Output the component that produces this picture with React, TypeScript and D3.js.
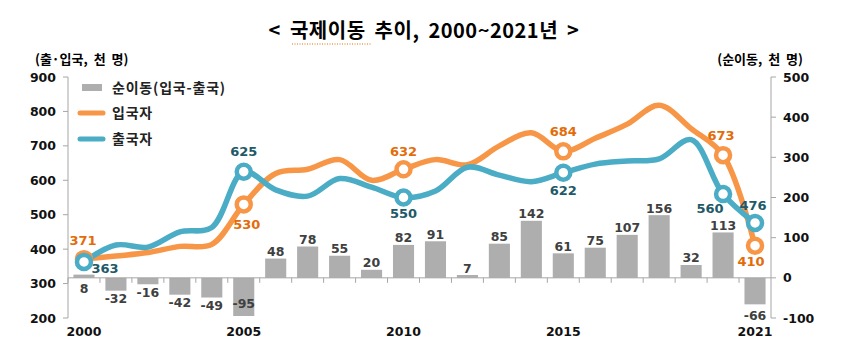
import React from "react";
import * as d3 from "d3";

const years = [2000, 2001, 2002, 2003, 2004, 2005, 2006, 2007, 2008, 2009, 2010, 2011, 2012, 2013, 2014, 2015, 2016, 2017, 2018, 2019, 2020, 2021];
const inflow = [371, 380, 390, 408, 414, 530, 620, 632, 660, 600, 632, 660, 645, 700, 738, 684, 722, 763, 818, 750, 673, 410];
const outflow = [363, 412, 406, 450, 463, 625, 572, 554, 605, 580, 550, 569, 638, 615, 596, 622, 647, 656, 662, 718, 560, 476];
const net = [8, -32, -16, -42, -49, -95, 48, 78, 55, 20, 82, 91, 7, 85, 142, 61, 75, 107, 156, 32, 113, -66];
const markerYears = [2000, 2005, 2010, 2015, 2020, 2021];
const xLabelYears = [2000, 2005, 2010, 2015, 2021];
const leftTicks = [200, 300, 400, 500, 600, 700, 800, 900];
const rightTicks = [-100, 0, 100, 200, 300, 400, 500];
const legendLabels = ["순이동(입국-출국)", "입국자", "출국자"];
const title = "< 국제이동 추이, 2000~2021년 >";
const leftTitle = "(출·입국, 천 명)";
const rightTitle = "(순이동, 천 명)";

const ORANGE = "#F79646";
const BLUE = "#4BACC6";
const ORANGE_TXT = "#E36C0A";
const BLUE_TXT = "#215968";
const BAR = "#AEAEAE";
const AXIS = "#A6A6A6";
const FONT = "'DejaVu Sans', 'Noto Sans CJK KR', sans-serif";
const KFONT = "'Noto Sans CJK KR', sans-serif";

// label offsets (dx, dy) relative to marker
const inOffsets: Record<number, [number, number]> = {
  2000: [-1, -19], 2005: [3, 20], 2010: [0, -18], 2015: [0, -20], 2020: [-2, -20], 2021: [-4, 16],
};
const outOffsets: Record<number, [number, number]> = {
  2000: [21, 6], 2005: [0, -20], 2010: [0, 16], 2015: [0, 18], 2020: [-13, 14], 2021: [-2, -18],
};
// bar label special placements (dy from bar end)
const barLabelOverride: Record<number, number> = { 2000: 11, 2005: -12, 2021: 11 };

export default function App() {
  const W = 853, H = 360;
  const x = d3.scaleBand<number>().domain(years).range([68, 771]).paddingInner(0.34).paddingOuter(0.17);
  const yL = d3.scaleLinear().domain([200, 900]).range([318, 77]);
  const yR = d3.scaleLinear().domain([-100, 500]).range([318, 77]);
  const cx = (yr: number) => (x(yr) as number) + x.bandwidth() / 2;
  const step = x.step();
  const line = d3.line<number>().x((_, i) => cx(years[i])).y((v) => yL(v)).curve(d3.curveCatmullRom.alpha(0.5));
  const zeroY = yR(0);

  const barLabelY = (yr: number, v: number) => {
    const end = yR(v);
    if (barLabelOverride[yr] !== undefined) {
      const base = yr === 2000 ? zeroY : end;
      return base + barLabelOverride[yr];
    }
    return v >= 0 ? end - 7 : end + 8;
  };

  return (
    <svg width={W} height={H} style={{ position: "absolute", left: 0, top: 0, background: "#fff" }} fontFamily={FONT}>
      {/* title */}
      <text x={424} y={38} textAnchor="middle" fontSize={20} fontWeight="bold" fill="#000" fontFamily={KFONT} letterSpacing={0.5} wordSpacing={4}>{title}</text>
      <line x1={292} x2={372} y1={44} y2={44} stroke="#E36C0A" strokeWidth={1} strokeDasharray="1,1.5" />
      <text x={35} y={59} dy="0.36em" fontSize={13} fontWeight="bold" fill="#000" fontFamily={KFONT} wordSpacing={3}>{leftTitle}</text>
      <text x={803} y={59} dy="0.36em" textAnchor="end" fontSize={13} fontWeight="bold" fill="#000" fontFamily={KFONT} wordSpacing={3}>{rightTitle}</text>

      {/* left axis */}
      <line x1={68} x2={68} y1={77} y2={318} stroke={AXIS} />
      {leftTicks.map((t) => (
        <g key={"l" + t}>
          <line x1={63} x2={68} y1={yL(t)} y2={yL(t)} stroke={AXIS} />
          <text x={56} y={yL(t)} dy="0.36em" textAnchor="end" fontSize={12.5} fontWeight="bold" fill="#111">{t}</text>
        </g>
      ))}
      {/* right axis */}
      <line x1={771} x2={771} y1={77} y2={318} stroke={AXIS} />
      {rightTicks.map((t) => (
        <g key={"r" + t}>
          <line x1={771} x2={776} y1={yR(t)} y2={yR(t)} stroke={AXIS} />
          <text x={783} y={yR(t)} dy="0.36em" textAnchor="start" fontSize={12.5} fontWeight="bold" fill="#111">{t}</text>
        </g>
      ))}
      {/* bars */}
      {years.map((yr, i) => (
        <rect key={"b" + yr} x={x(yr)} width={x.bandwidth()} y={Math.min(yR(net[i]), zeroY)} height={Math.abs(yR(net[i]) - zeroY)} fill={BAR} />
      ))}
      {/* x axis */}
      <line x1={68} x2={771} y1={zeroY} y2={zeroY} stroke={AXIS} />
      {years.map((yr) => (
        <line key={"xt" + yr} x1={(x(yr) as number) - step * 0.17} x2={(x(yr) as number) - step * 0.17} y1={zeroY} y2={zeroY + 5} stroke={AXIS} />
      ))}
      {xLabelYears.map((yr) => (
        <text key={"xl" + yr} x={cx(yr)} y={331} dy="0.36em" textAnchor="middle" fontSize={12.5} fontWeight="bold" fill="#111">{yr}</text>
      ))}
      {/* bar labels */}
      {years.map((yr, i) => (
        <text key={"bl" + yr} x={cx(yr)} y={barLabelY(yr, net[i])} dy="0.36em" textAnchor="middle" fontSize={12.5} fontWeight="bold" fill="#404040">{net[i]}</text>
      ))}
      {/* lines */}
      <path d={line(inflow) as string} fill="none" stroke={ORANGE} strokeWidth={5.5} strokeLinejoin="round" />
      <path d={line(outflow) as string} fill="none" stroke={BLUE} strokeWidth={5.5} strokeLinejoin="round" />
      {/* markers */}
      {markerYears.map((yr) => {
        const i = years.indexOf(yr);
        return (
          <g key={"m" + yr}>
            <circle cx={cx(yr)} cy={yL(inflow[i])} r={7} fill="#fff" stroke={ORANGE} strokeWidth={4.5} />
            <circle cx={cx(yr)} cy={yL(outflow[i])} r={7} fill="#fff" stroke={BLUE} strokeWidth={4.5} />
          </g>
        );
      })}
      {/* point labels */}
      {markerYears.map((yr) => {
        const i = years.indexOf(yr);
        const oi = inOffsets[yr];
        const oo = outOffsets[yr];
        return (
          <g key={"pl" + yr}>
            <text x={cx(yr) + oi[0]} y={yL(inflow[i]) + oi[1]} dy="0.36em" textAnchor="middle" fontSize={13} fontWeight="bold" fill={ORANGE_TXT}>{inflow[i]}</text>
            <text x={cx(yr) + oo[0]} y={yL(outflow[i]) + oo[1]} dy="0.36em" textAnchor="middle" fontSize={13} fontWeight="bold" fill={BLUE_TXT}>{outflow[i]}</text>
          </g>
        );
      })}
      {/* legend */}
      <rect x={82} y={84} width={20} height={7} fill={BAR} />
      <line x1={80} x2={103} y1={113} y2={113} stroke={ORANGE} strokeWidth={5} strokeLinecap="round" />
      <line x1={80} x2={103} y1={139} y2={139} stroke={BLUE} strokeWidth={5} strokeLinecap="round" />
      {legendLabels.map((l, i) => (
        <text key={"lg" + i} x={112} y={[88, 113, 139][i]} dy="0.36em" fontSize={14} fontWeight="bold" fill="#222" fontFamily={KFONT} letterSpacing={0.8}>{l}</text>
      ))}
    </svg>
  );
}
